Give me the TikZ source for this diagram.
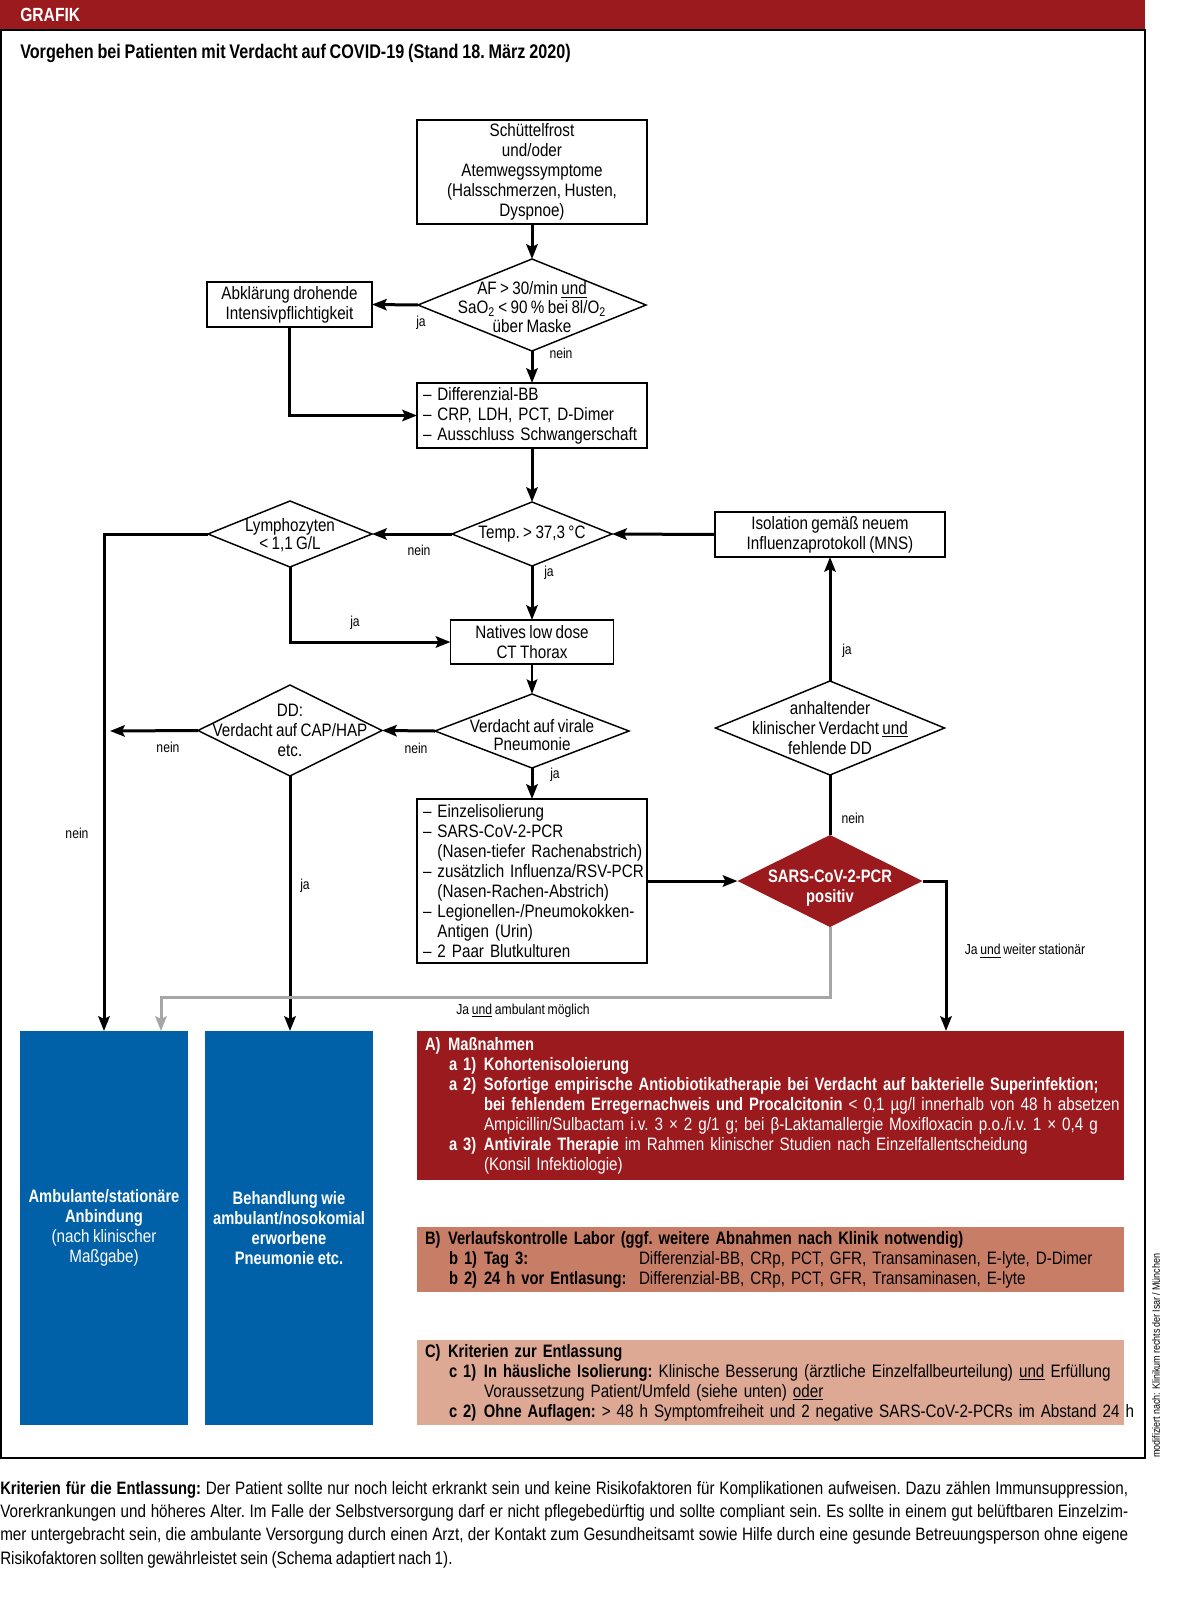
\documentclass[tikz,border=0pt]{standalone}
\usepackage{fontspec}
\setmainfont{Liberation Sans}[UprightFeatures={FakeStretch=0.845,WordSpace=0.8},BoldFeatures={FakeStretch=0.82,WordSpace=0.85}]
\usetikzlibrary{shapes.geometric,arrows.meta,calc}
\definecolor{grafred}{HTML}{9B1A1E}
\definecolor{grafblue}{HTML}{0060A8}
\definecolor{boxbcol}{HTML}{C87E66}
\definecolor{boxccol}{HTML}{DDA994}
\definecolor{grayline}{HTML}{A6A6A6}
\begin{document}
\begin{tikzpicture}[x=0.75pt,y=-0.75pt,
  every node/.style={font=\fontsize{13.5}{15}\selectfont\frenchspacing},
  box/.style={draw,line width=1.1pt,inner sep=0pt,outer sep=0pt,align=center},
  dia/.style={draw,diamond,line width=1.1pt,inner sep=0pt,outer sep=0pt},
  arr/.style={line width=2.25pt,-{Stealth[length=11pt,width=8.5pt,inset=2pt]}},
  thinarr/.style={line width=1.6pt,-{Stealth[length=11pt,width=8pt,inset=2pt]}},
  lab/.style={font=\fontsize{10.8}{12}\selectfont\frenchspacing,inner sep=0pt},
  infobox/.style={inner sep=0pt,outer sep=0pt,minimum width=530.25pt,text width=518.25pt,align=left},
  bluebox/.style={fill=grafblue,text=white,inner sep=0pt,outer sep=0pt,minimum width=126pt,minimum height=295.5pt,align=center},
]
\useasboundingbox (0,0) rectangle (1200,1623);
% header and frame
\fill[grafred] (0,0) rectangle (1145,30);
\draw[line width=1.1pt] (1,30) rectangle (1145,1458);
\node[anchor=west,text=white,font=\bfseries\fontsize{14.3}{16}\selectfont,inner sep=0pt] (hdr) at (20,15) {GRAFIK};
\node[anchor=west,font=\bfseries\fontsize{14.8}{16}\selectfont\frenchspacing,inner sep=0pt] (title) at (20,53) {Vorgehen bei Patienten mit Verdacht auf COVID-19 (Stand 18. März 2020)};

% flow nodes
\node[box,minimum width=172.5pt,minimum height=78pt] (sym) at (532,172) {Schüttelfrost\\und/oder\\Atemwegssymptome\\(Halsschmerzen, Husten,\\Dyspnoe)};
\node[dia,minimum width=171pt,minimum height=69pt,
  label={[align=center,font=\fontsize{13.5}{14}\selectfont,yshift=-1.5pt]center:{AF > 30/min \underline{und}\\SaO\textsubscript{2} < 90 \% bei 8l/O\textsubscript{2}\\über Maske}}] (af) at (532,305) {};
\node[box,minimum width=123.75pt,minimum height=33.75pt] (abk) at (289.5,304.5) {Abklärung drohende\\Intensivpflichtigkeit};
\node[box,minimum width=172.5pt,minimum height=48.75pt,align=left,text width=163.5pt] (diff) at (532,415.5) {\mbox{– Differenzial-BB}\\\mbox{– CRP, LDH, PCT, D-Dimer}\\\mbox{– Ausschluss Schwangerschaft}};
\node[dia,minimum width=120pt,minimum height=48pt,label={center:{Temp. > 37,3 °C}}] (temp) at (532,534) {};
\node[dia,minimum width=123pt,minimum height=49.5pt,
  label={[align=center,font=\fontsize{13.5}{13.5}\selectfont,yshift=-1pt]center:{Lymphozyten\\< 1,1 G/L}}] (lym) at (290,534) {};
\node[box,minimum width=172.5pt,minimum height=33.75pt] (iso) at (830,534.5) {Isolation gemäß neuem\\Influenzaprotokoll (MNS)};
\node[box,minimum width=122.25pt,minimum height=33pt] (ct) at (532,642) {Natives low dose\\CT Thorax};
\node[dia,minimum width=145.5pt,minimum height=55.5pt,
  label={[align=center,font=\fontsize{13.5}{13.5}\selectfont,yshift=-3pt]center:{Verdacht auf virale\\Pneumonie}}] (vir) at (532,731) {};
\node[dia,minimum width=138pt,minimum height=68.25pt,
  label={[align=center]center:{DD:\\Verdacht auf CAP/HAP\\etc.}}] (dd) at (290,730.5) {};
\node[dia,minimum width=171.75pt,minimum height=70.5pt,
  label={[align=center]center:{anhaltender\\klinischer Verdacht \underline{und}\\fehlende DD}}] (anh) at (830,728) {};
\node[box,minimum width=172.5pt,minimum height=123pt,align=left,text width=163.5pt] (ein) at (532,881) {\mbox{– Einzelisolierung}\\\mbox{– SARS-CoV-2-PCR}\\\mbox{\hphantom{– }(Nasen-tiefer Rachenabstrich)}\\\mbox{– zusätzlich Influenza/RSV-PCR}\\\mbox{\hphantom{– }(Nasen-Rachen-Abstrich)}\\\mbox{– Legionellen-/Pneumokokken-}\\\mbox{\hphantom{– }Antigen (Urin)}\\\mbox{– 2 Paar Blutkulturen}};
\node[dia,fill=grafred,draw=none,minimum width=138.75pt,minimum height=69pt,
  label={[align=center,text=white,font=\bfseries\fontsize{13.5}{15}\selectfont,yshift=-5pt]center:{SARS-CoV-2-PCR\\positiv}}] (sars) at (830,881) {};

% result boxes
\node[bluebox] (amb) at (104,1228) {\textbf{Ambulante/stationäre}\\\textbf{Anbindung}\\(nach klinischer\\Maßgabe)};
\node[bluebox] (beh) at (289,1228) {\textbf{Behandlung wie}\\\textbf{ambulant/nosokomial}\\\textbf{erworbene}\\\textbf{Pneumonie etc.}};
\node[infobox,fill=grafred,text=white,minimum height=111.75pt] (boxa) at (770.5,1105.5) {%
\textbf{\makebox[17.25pt][l]{A)}Maßnahmen}\\
\hspace*{18pt}\makebox[26.25pt][l]{\textbf{a 1)}}\textbf{Kohortenisoloierung}\\
\mbox{\hspace*{18pt}\makebox[26.25pt][l]{\textbf{a 2)}}\textbf{Sofortige empirische Antiobiotikatherapie bei Verdacht auf bakterielle Superinfektion;}}\\
\mbox{\hspace*{44.25pt}\textbf{bei fehlendem Erregernachweis und Procalcitonin} < 0,1 µg/l innerhalb von 48 h absetzen}\\
\mbox{\hspace*{44.25pt}Ampicillin/Sulbactam i.v. 3 × 2 g/1 g; bei β-Laktamallergie Moxifloxacin p.o./i.v. 1 × 0,4 g}\\
\mbox{\hspace*{18pt}\makebox[26.25pt][l]{\textbf{a 3)}}\textbf{Antivirale Therapie} im Rahmen klinischer Studien nach Einzelfallentscheidung}\\
\hspace*{44.25pt}(Konsil Infektiologie)};
\node[infobox,fill=boxbcol,minimum height=48.75pt] (boxb) at (770.5,1259.5) {%
\mbox{\textbf{\makebox[17.25pt][l]{B)}Verlaufskontrolle Labor (ggf. weitere Abnahmen nach Klinik notwendig)}}\\
\mbox{\hspace*{18pt}\makebox[26.25pt][l]{\textbf{b 1)}}\makebox[116.25pt][l]{\textbf{Tag 3:}}Differenzial-BB, CRp, PCT, GFR, Transaminasen, E-lyte, D-Dimer}\\
\mbox{\hspace*{18pt}\makebox[26.25pt][l]{\textbf{b 2)}}\makebox[116.25pt][l]{\textbf{24 h vor Entlasung:}}Differenzial-BB, CRp, PCT, GFR, Transaminasen, E-lyte}};
\node[infobox,fill=boxccol,minimum height=63.75pt] (boxc) at (770.5,1382.5) {%
\textbf{\makebox[17.25pt][l]{C)}Kriterien zur Entlassung}\\
\mbox{\hspace*{18pt}\makebox[26.25pt][l]{\textbf{c 1)}}\textbf{In häusliche Isolierung:} Klinische Besserung (ärztliche Einzelfallbeurteilung) \underline{und} Erfüllung}\\
\mbox{\hspace*{44.25pt}Voraussetzung Patient/Umfeld (siehe unten) \underline{oder}}\\
\mbox{\hspace*{18pt}\makebox[26.25pt][l]{\textbf{c 2)}}\textbf{Ohne Auflagen:} > 48 h Symptomfreiheit und 2 negative SARS-CoV-2-PCRs im Abstand 24 h}};

% free coordinates
\coordinate (ddout) at (110,731);
\coordinate (ain) at (946,1031);
\coordinate (gk) at (161,997);
\coordinate (gin) at (161,1031);

% connectors
\draw[arr] (sym) -- (af);
\draw[arr] (af.west) -- (abk.east);
\draw[arr] (af.south) -- (diff.north);
\draw[arr] (abk.south) |- (diff.west);
\draw[arr] (diff.south) -- (temp.north);
\draw[arr] (temp.west) -- (lym.east);
\draw[arr] (iso.west) -- (temp.east);
\draw[arr] (lym.west) -| (amb.north);
\draw[arr] (lym.south) |- (ct.west);
\draw[arr] (temp.south) -- (ct.north);
\draw[thinarr] (ct.south) -- (vir.north);
\draw[arr] (vir.west) -- (dd.east);
\draw[arr] (dd.west) -- (ddout);
\draw[arr] (dd.south) -- (dd.south |- beh.north);
\draw[arr] (vir.south) -- (ein.north);
\draw[arr] (ein.east) -- (sars.west);
\draw[line width=2.25pt] (sars.north) -- (anh.south);
\draw[arr] (anh.north) -- (iso.south);
\draw[arr] (sars.east) -| (ain);
\draw[arr,color=grayline] (sars.south) |- (gk) -- (gin);

% connector labels
\node[lab] (l1) at (421,323) {ja};
\node[lab] (l2) at (561,353) {nein};
\node[lab] (l3) at (419,550) {nein};
\node[lab] (l4) at (549,573) {ja};
\node[lab] (l5) at (355,623) {ja};
\node[lab] (l6) at (77,833) {nein};
\node[lab] (l7) at (416,748) {nein};
\node[lab] (l8) at (168,747) {nein};
\node[lab] (l9) at (555,775) {ja};
\node[lab] (l10) at (305,886) {ja};
\node[lab] (l11) at (853,818) {nein};
\node[lab] (l12) at (847,651) {ja};
\node[lab] (l13) at (1025,951) {Ja \underline{und} weiter stationär};
\node[lab] (l14) at (523,1011) {Ja \underline{und} ambulant möglich};

% side credit
\node[rotate=90,anchor=west,inner sep=0pt,font=\fontsize{8}{9}\selectfont] (credit) at (1156,1458) {modifiziert nach: Klinikum rechts der Isar / München};

% footer
\node[anchor=north west,inner sep=0pt,text width=846pt,align=justify,font=\fontsize{13.5}{17.5}\selectfont\frenchspacing] (foot) at (0,1481) {\textbf{Kriterien für die Entlassung:} Der Patient sollte nur noch leicht erkrankt sein und keine Risikofaktoren für Komplikationen aufweisen. Dazu zählen Immunsuppression,\linebreak Vorerkrankungen und höheres Alter. Im Falle der Selbstversorgung darf er nicht pflegebedürftig und sollte compliant sein. Es sollte in einem gut belüftbaren Einzelzim-\linebreak mer untergebracht sein, die ambulante Versorgung durch einen Arzt, der Kontakt zum Gesundheitsamt sowie Hilfe durch eine gesunde Betreuungsperson ohne eigene\linebreak Risikofaktoren sollten gewährleistet sein (Schema adaptiert nach 1).};
\end{tikzpicture}
\end{document}
